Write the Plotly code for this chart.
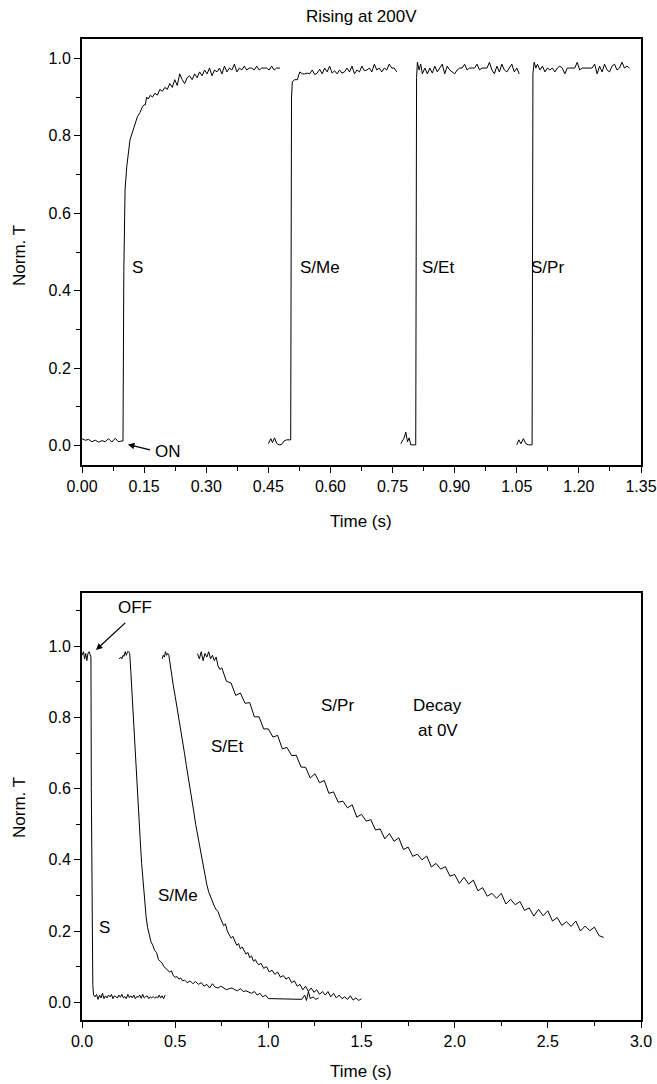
import plotly.graph_objects as go

# ---------------- Top panel: Rising at 200V ----------------
rise_S_t = [0.000, 0.008, 0.016, 0.024, 0.032, 0.040, 0.048, 0.056, 0.064, 0.072, 0.080, 0.088, 0.096, 0.099,
            0.101, 0.104, 0.108, 0.112, 0.116, 0.122, 0.128, 0.134, 0.140, 0.146, 0.150, 0.153, 0.156, 0.160,
            0.165, 0.170, 0.176, 0.182, 0.188, 0.194, 0.200, 0.206, 0.212, 0.218, 0.224, 0.230, 0.236, 0.242,
            0.248, 0.254, 0.260, 0.266, 0.272, 0.278, 0.284, 0.290, 0.296, 0.302, 0.308, 0.314, 0.320, 0.326,
            0.332, 0.338, 0.344, 0.350, 0.356, 0.362, 0.368, 0.374, 0.380, 0.386, 0.392, 0.398, 0.404, 0.410,
            0.416, 0.422, 0.428, 0.434, 0.440, 0.446, 0.452, 0.458, 0.464, 0.470, 0.478]
rise_S_v = [0.018, 0.014, 0.016, 0.010, 0.014, 0.009, 0.013, 0.010, 0.018, 0.009, 0.019, 0.010, 0.012, 0.012,
            0.450, 0.660, 0.720, 0.760, 0.790, 0.810, 0.830, 0.850, 0.860, 0.875, 0.880, 0.880, 0.900, 0.895,
            0.905, 0.900, 0.910, 0.905, 0.920, 0.915, 0.925, 0.920, 0.935, 0.925, 0.945, 0.930, 0.960, 0.945,
            0.935, 0.950, 0.955, 0.945, 0.960, 0.950, 0.965, 0.955, 0.970, 0.960, 0.975, 0.955, 0.970, 0.965,
            0.975, 0.960, 0.980, 0.965, 0.975, 0.970, 0.985, 0.965, 0.975, 0.970, 0.980, 0.970, 0.975, 0.975,
            0.970, 0.980, 0.970, 0.975, 0.975, 0.975, 0.970, 0.980, 0.970, 0.975, 0.975]

rise_Me_t = [0.450, 0.456, 0.460, 0.465, 0.470, 0.476, 0.482, 0.488, 0.494, 0.500, 0.504, 0.506, 0.508, 0.514,
             0.520, 0.526, 0.532, 0.538, 0.544, 0.550, 0.556, 0.562, 0.568, 0.574, 0.580, 0.586, 0.592, 0.598,
             0.604, 0.610, 0.616, 0.622, 0.628, 0.634, 0.640, 0.646, 0.652, 0.658, 0.664, 0.670, 0.676, 0.682,
             0.688, 0.694, 0.700, 0.706, 0.712, 0.718, 0.724, 0.730, 0.736, 0.742, 0.748, 0.754, 0.760]
rise_Me_v = [0.005, 0.018, 0.008, 0.020, 0.006, 0.002, 0.003, 0.012, 0.015, 0.015, 0.015, 0.900, 0.940, 0.945,
             0.945, 0.965, 0.960, 0.960, 0.962, 0.960, 0.970, 0.958, 0.962, 0.972, 0.960, 0.975, 0.965, 0.980,
             0.962, 0.968, 0.960, 0.970, 0.962, 0.965, 0.975, 0.965, 0.980, 0.960, 0.970, 0.965, 0.980, 0.968,
             0.970, 0.975, 0.965, 0.985, 0.970, 0.975, 0.965, 0.975, 0.970, 0.985, 0.975, 0.975, 0.965]

rise_Et_t = [0.770, 0.775, 0.778, 0.782, 0.786, 0.790, 0.794, 0.800, 0.806, 0.808, 0.810, 0.814, 0.818, 0.822,
             0.828, 0.834, 0.840, 0.846, 0.852, 0.858, 0.864, 0.870, 0.876, 0.882, 0.888, 0.894, 0.900, 0.906,
             0.912, 0.918, 0.924, 0.930, 0.936, 0.942, 0.948, 0.954, 0.960, 0.966, 0.972, 0.978, 0.984, 0.990,
             0.996, 1.002, 1.008, 1.014, 1.020, 1.026, 1.032, 1.038, 1.044, 1.050, 1.056]
rise_Et_v = [0.005, 0.015, 0.020, 0.035, 0.010, 0.020, 0.002, 0.002, 0.002, 0.950, 0.990, 0.970, 0.985, 0.960,
             0.975, 0.960, 0.975, 0.962, 0.980, 0.965, 0.975, 0.985, 0.960, 0.980, 0.970, 0.965, 0.960, 0.970,
             0.975, 0.975, 0.985, 0.970, 0.975, 0.975, 0.975, 0.985, 0.970, 0.975, 0.975, 0.975, 0.990, 0.970,
             0.960, 0.980, 0.965, 0.985, 0.970, 0.965, 0.975, 0.985, 0.965, 0.975, 0.960]

rise_Pr_t = [1.050, 1.055, 1.060, 1.066, 1.072, 1.078, 1.084, 1.087, 1.089, 1.092, 1.096, 1.100, 1.106, 1.112,
             1.118, 1.124, 1.130, 1.136, 1.142, 1.148, 1.154, 1.160, 1.166, 1.172, 1.178, 1.184, 1.190, 1.196,
             1.202, 1.208, 1.214, 1.220, 1.226, 1.232, 1.238, 1.244, 1.250, 1.256, 1.262, 1.268, 1.274, 1.280,
             1.286, 1.292, 1.298, 1.304, 1.310, 1.316, 1.322]
rise_Pr_v = [0.002, 0.015, 0.005, 0.018, 0.005, 0.002, 0.002, 0.002, 0.960, 0.990, 0.975, 0.985, 0.970, 0.980,
             0.965, 0.975, 0.970, 0.975, 0.965, 0.975, 0.980, 0.975, 0.960, 0.975, 0.975, 0.975, 0.975, 0.990,
             0.970, 0.975, 0.975, 0.975, 0.975, 0.975, 0.985, 0.960, 0.980, 0.965, 0.985, 0.970, 0.965, 0.980,
             0.985, 0.970, 0.975, 0.990, 0.975, 0.980, 0.975]

# ---------------- Bottom panel: Decay at 0V ----------------
dec_S_t = [0.000, 0.008, 0.014, 0.020, 0.026, 0.032, 0.038, 0.044, 0.048, 0.050, 0.054, 0.058, 0.062,
           0.070, 0.078, 0.086, 0.094, 0.102, 0.110, 0.118, 0.126, 0.134, 0.142, 0.150, 0.158, 0.166, 0.174,
           0.182, 0.190, 0.198, 0.206, 0.214, 0.222, 0.230, 0.238, 0.246, 0.254, 0.262, 0.270, 0.278, 0.286,
           0.294, 0.302, 0.310, 0.318, 0.326, 0.334, 0.342, 0.350, 0.358, 0.366, 0.374, 0.382, 0.390, 0.398,
           0.406, 0.414, 0.422, 0.430, 0.438, 0.446]
dec_S_v = [0.975, 0.985, 0.965, 0.980, 0.960, 0.980, 0.985, 0.975, 0.970, 0.600, 0.200, 0.050, 0.020,
           0.015, 0.022, 0.008, 0.020, 0.012, 0.025, 0.010, 0.018, 0.012, 0.020, 0.015, 0.022, 0.010, 0.018,
           0.015, 0.012, 0.020, 0.014, 0.022, 0.012, 0.016, 0.010, 0.022, 0.013, 0.018, 0.012, 0.020, 0.010,
           0.016, 0.014, 0.020, 0.011, 0.022, 0.012, 0.016, 0.018, 0.010, 0.015, 0.012, 0.016, 0.012, 0.015,
           0.012, 0.020, 0.012, 0.018, 0.010, 0.020]

dec_Me_t = [0.200, 0.208, 0.214, 0.220, 0.226, 0.232, 0.238, 0.244, 0.250, 0.256, 0.262, 0.268, 0.274, 0.280,
            0.288, 0.296, 0.304, 0.312, 0.320, 0.328, 0.336, 0.344, 0.352, 0.360, 0.370, 0.380, 0.390, 0.400,
            0.410, 0.420, 0.430, 0.440, 0.450, 0.460, 0.470, 0.480, 0.490, 0.500, 0.510, 0.520, 0.530, 0.540,
            0.550, 0.565, 0.580, 0.595, 0.610, 0.625, 0.640, 0.655, 0.670, 0.685, 0.700, 0.715, 0.730, 0.745,
            0.760, 0.775, 0.790, 0.805, 0.820, 0.835, 0.850, 0.865, 0.880, 0.895, 0.910, 0.925, 0.940, 0.955,
            0.970, 0.985, 1.000, 1.020, 1.040, 1.060, 1.080, 1.100, 1.120, 1.140, 1.160, 1.180, 1.195, 1.205,
            1.215, 1.225, 1.240, 1.255, 1.270]
dec_Me_v = [0.965, 0.970, 0.965, 0.975, 0.972, 0.985, 0.975, 0.985, 0.985, 0.980, 0.930, 0.870, 0.800, 0.750,
            0.680, 0.600, 0.530, 0.460, 0.390, 0.330, 0.280, 0.240, 0.210, 0.190, 0.170, 0.160, 0.145, 0.140,
            0.120, 0.115, 0.110, 0.100, 0.095, 0.090, 0.085, 0.088, 0.075, 0.070, 0.072, 0.065, 0.068, 0.060,
            0.062, 0.055, 0.060, 0.052, 0.058, 0.050, 0.055, 0.045, 0.050, 0.040, 0.052, 0.042, 0.040, 0.045,
            0.040, 0.035, 0.038, 0.040, 0.035, 0.032, 0.038, 0.030, 0.032, 0.028, 0.025, 0.030, 0.020, 0.025,
            0.015, 0.020, 0.010, 0.010, 0.010, 0.010, 0.010, 0.010, 0.010, 0.010, 0.010, 0.008, 0.020, 0.005,
            0.030, 0.010, 0.015, 0.008, 0.012]

dec_Et_t = [0.430, 0.436, 0.442, 0.448, 0.454, 0.460, 0.466, 0.472, 0.480, 0.490, 0.500, 0.510, 0.520, 0.530,
            0.540, 0.550, 0.560, 0.570, 0.580, 0.590, 0.600, 0.610, 0.620, 0.630, 0.640, 0.650, 0.660, 0.670,
            0.680, 0.690, 0.700, 0.710, 0.720, 0.730, 0.740, 0.750, 0.760, 0.770, 0.780, 0.790, 0.800, 0.810,
            0.820, 0.830, 0.840, 0.850, 0.860, 0.870, 0.880, 0.890, 0.900, 0.910, 0.920, 0.930, 0.940, 0.950,
            0.960, 0.975, 0.990, 1.005, 1.020, 1.035, 1.050, 1.065, 1.080, 1.095, 1.110, 1.125, 1.140, 1.155,
            1.170, 1.185, 1.200, 1.215, 1.230, 1.245, 1.260, 1.275, 1.290, 1.305, 1.320, 1.335, 1.350, 1.365,
            1.380, 1.395, 1.410, 1.425, 1.440, 1.455, 1.470, 1.485, 1.500]
dec_Et_v = [0.965, 0.975, 0.970, 0.985, 0.975, 0.980, 0.975, 0.950, 0.920, 0.890, 0.860, 0.830, 0.800, 0.765,
            0.735, 0.700, 0.665, 0.635, 0.600, 0.565, 0.535, 0.500, 0.470, 0.440, 0.410, 0.385, 0.355, 0.330,
            0.310, 0.295, 0.285, 0.270, 0.260, 0.255, 0.240, 0.225, 0.215, 0.220, 0.200, 0.190, 0.180, 0.185,
            0.170, 0.160, 0.165, 0.150, 0.155, 0.145, 0.135, 0.140, 0.125, 0.130, 0.115, 0.120, 0.110, 0.105,
            0.110, 0.095, 0.100, 0.085, 0.090, 0.078, 0.085, 0.070, 0.075, 0.065, 0.070, 0.055, 0.060, 0.045,
            0.050, 0.035, 0.045, 0.030, 0.040, 0.028, 0.035, 0.022, 0.030, 0.020, 0.030, 0.015, 0.025, 0.012,
            0.020, 0.010, 0.015, 0.008, 0.018, 0.006, 0.012, 0.005, 0.010]

dec_Pr_t = [0.620, 0.630, 0.640, 0.650, 0.660, 0.670, 0.680, 0.690, 0.700, 0.710, 0.720, 0.730, 0.740,
            0.750, 0.775, 0.800, 0.825, 0.850, 0.875, 0.900, 0.925, 0.950, 0.975, 1.000, 1.025, 1.050, 1.075,
            1.100, 1.125, 1.150, 1.175, 1.200, 1.225, 1.250, 1.275, 1.300, 1.325, 1.350, 1.375, 1.400, 1.425,
            1.450, 1.475, 1.500, 1.525, 1.550, 1.575, 1.600, 1.625, 1.650, 1.675, 1.700, 1.725, 1.750, 1.775,
            1.800, 1.825, 1.850, 1.875, 1.900, 1.925, 1.950, 1.975, 2.000, 2.025, 2.050, 2.075, 2.100, 2.125,
            2.150, 2.175, 2.200, 2.225, 2.250, 2.275, 2.300, 2.325, 2.350, 2.375, 2.400, 2.425, 2.450, 2.475,
            2.500, 2.525, 2.550, 2.575, 2.600, 2.625, 2.650, 2.675, 2.700, 2.725, 2.750, 2.775, 2.800]
dec_Pr_v = [0.980, 0.965, 0.985, 0.960, 0.980, 0.970, 0.985, 0.965, 0.975, 0.960, 0.970, 0.945, 0.935,
            0.940, 0.902, 0.897, 0.862, 0.869, 0.840, 0.842, 0.802, 0.802, 0.768, 0.768, 0.745, 0.750, 0.712,
            0.716, 0.693, 0.694, 0.661, 0.660, 0.630, 0.642, 0.617, 0.623, 0.587, 0.591, 0.562, 0.565, 0.546,
            0.555, 0.520, 0.528, 0.509, 0.513, 0.484, 0.487, 0.459, 0.474, 0.452, 0.462, 0.429, 0.436, 0.410,
            0.416, 0.400, 0.411, 0.380, 0.390, 0.374, 0.381, 0.354, 0.359, 0.334, 0.351, 0.332, 0.343, 0.313,
            0.322, 0.298, 0.306, 0.292, 0.306, 0.276, 0.289, 0.274, 0.283, 0.258, 0.265, 0.242, 0.261, 0.243,
            0.257, 0.228, 0.238, 0.216, 0.226, 0.213, 0.228, 0.200, 0.214, 0.201, 0.211, 0.187, 0.182]

top_x_ticks = [0.00, 0.15, 0.30, 0.45, 0.60, 0.75, 0.90, 1.05, 1.20, 1.35]
bot_x_ticks = [0.0, 0.5, 1.0, 1.5, 2.0, 2.5, 3.0]
y_ticks = [0.0, 0.2, 0.4, 0.6, 0.8, 1.0]

# ---------------- Figure ----------------
W, H = 657, 1084
FONT = "Liberation Sans, Arial, sans-serif"
line = dict(color="black", width=1)

def px_x(p):
    return p / W

def px_y(p):
    return 1 - p / H

fig = go.Figure()
for t, v in [(rise_S_t, rise_S_v), (rise_Me_t, rise_Me_v), (rise_Et_t, rise_Et_v), (rise_Pr_t, rise_Pr_v)]:
    fig.add_trace(go.Scatter(x=t, y=v, mode="lines", line=line, xaxis="x", yaxis="y", showlegend=False))
for t, v in [(dec_S_t, dec_S_v), (dec_Me_t, dec_Me_v), (dec_Et_t, dec_Et_v), (dec_Pr_t, dec_Pr_v)]:
    fig.add_trace(go.Scatter(x=t, y=v, mode="lines", line=line, xaxis="x2", yaxis="y2", showlegend=False))

axis_common = dict(showline=True, linecolor="black", linewidth=2, mirror=True, ticks="outside",
                   ticklen=6, tickwidth=1.3, tickcolor="black", showgrid=False, zeroline=False,
                   tickfont=dict(family=FONT, size=16, color="black"), automargin=False)
minor = dict(ticks="outside", ticklen=4, tickwidth=1.3, tickcolor="black", showgrid=False)

xdom = [px_x(82), px_x(641)]
fig.update_layout(
    width=W, height=H, margin=dict(l=0, r=0, t=0, b=0),
    paper_bgcolor="white", plot_bgcolor="white",
    font=dict(family=FONT, color="black"),
    xaxis=dict(domain=xdom, anchor="y", range=[0, 1.35], tickvals=top_x_ticks, tickformat=".2f",
               minor=dict(dtick=0.075, tick0=0, **minor), **axis_common),
    yaxis=dict(domain=[px_y(465), px_y(39)], anchor="x", range=[-0.05, 1.05], tickvals=y_ticks,
               tickformat=".1f", minor=dict(dtick=0.1, tick0=0, **minor), **axis_common),
    xaxis2=dict(domain=xdom, anchor="y2", range=[0, 3.0], tickvals=bot_x_ticks, tickformat=".1f",
                minor=dict(dtick=0.25, tick0=0, **minor), **axis_common),
    yaxis2=dict(domain=[px_y(1020), px_y(593)], anchor="x2", range=[-0.05, 1.15], tickvals=y_ticks,
                tickformat=".1f", minor=dict(dtick=0.1, tick0=0, **minor), **axis_common),
)

tf = dict(family=FONT, size=17, color="black")
C = dict(xanchor="center", yanchor="middle", showarrow=False, font=tf)
ann = []
# titles / axis titles (paper coords)
ann.append(dict(text="Rising at 200V", x=px_x(361), y=px_y(17), xref="paper", yref="paper", **C))
ann.append(dict(text="Norm. T", x=px_x(19), y=px_y(256), xref="paper", yref="paper", textangle=-90, **C))
ann.append(dict(text="Norm. T", x=px_x(19), y=px_y(808), xref="paper", yref="paper", textangle=-90, **C))
ann.append(dict(text="Time (s)", x=px_x(361), y=px_y(521), xref="paper", yref="paper", **C))
ann.append(dict(text="Time (s)", x=px_x(361), y=px_y(1071), xref="paper", yref="paper", **C))
# curve labels top
for txt, x, y in [("S", 0.135, 0.46), ("S/Me", 0.575, 0.46), ("S/Et", 0.86, 0.46), ("S/Pr", 1.125, 0.46),
                  ("ON", 0.208, -0.015)]:
    ann.append(dict(text=txt, x=x, y=y, xref="x", yref="y", **C))
ann.append(dict(text="", x=0.111, y=0.003, ax=0.168, ay=-0.012, xref="x", yref="y", axref="x", ayref="y",
                showarrow=True, arrowhead=2, arrowsize=1, arrowwidth=1.3, arrowcolor="black"))
# curve labels bottom
for txt, x, y in [("S", 0.12, 0.21), ("S/Me", 0.515, 0.30), ("S/Et", 0.78, 0.72), ("S/Pr", 1.37, 0.835),
                  ("Decay", 1.91, 0.835), ("at 0V", 1.91, 0.763), ("OFF", 0.284, 1.11)]:
    ann.append(dict(text=txt, x=x, y=y, xref="x2", yref="y2", **C))
ann.append(dict(text="", x=0.075, y=0.99, ax=0.24, ay=1.07, xref="x2", yref="y2", axref="x2", ayref="y2",
                showarrow=True, arrowhead=2, arrowsize=1, arrowwidth=1.3, arrowcolor="black"))
fig.update_layout(annotations=ann)

fig.write_html("out.html", config={"displayModeBar": False},
               post_script="document.body.style.margin='0';document.body.style.overflow='hidden';")
